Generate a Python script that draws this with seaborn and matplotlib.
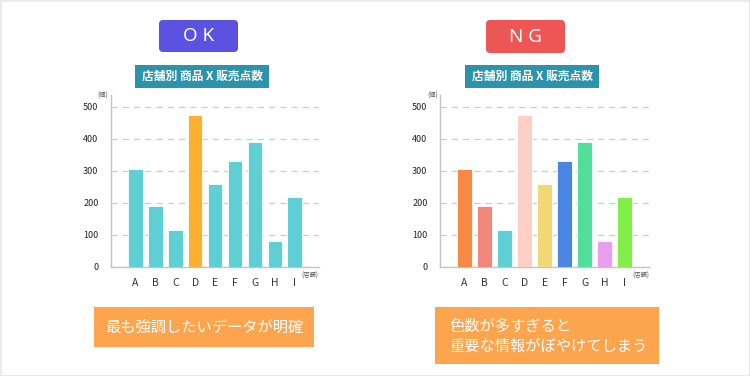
import pandas as pd
import seaborn as sns
import matplotlib.pyplot as plt
from matplotlib.patches import FancyBboxPatch, Rectangle

# data
stores = ["A", "B", "C", "D", "E", "F", "G", "H", "I"]
sales = [305, 190, 115, 475, 258, 330, 390, 80, 220]
y_ticks = [0, 100, 200, 300, 400, 500]

ok_colors = ["#5fcfd6", "#5fcfd6", "#5fcfd6", "#fbb12f", "#5fcfd6",
             "#5fcfd6", "#5fcfd6", "#5fcfd6", "#5fcfd6"]
ng_colors = ["#f68a45", "#f1877a", "#5fcfd6", "#fdd0c6", "#f1d877",
             "#4a86e2", "#52de9b", "#e99ef0", "#82ee48"]

chart_title = "店舗別 商品 X 販売点数"
ok_caption = "最も強調したいデータが明確"
ng_caption = "色数が多すぎると\n重要な情報がぼやけてしまう"

df = pd.DataFrame({"store": stores, "sales": sales})

sns.set_style("white")
plt.rcParams["font.family"] = ["Noto Sans CJK JP", "DejaVu Sans"]

W, H = 750, 376
fig = plt.figure(figsize=(W / 100, H / 100), dpi=100)

# overlay in pixel coordinates for boxes / labels
bg = fig.add_axes([0, 0, 1, 1])
bg.set_xlim(0, W)
bg.set_ylim(H, 0)
bg.axis("off")
bg.add_patch(Rectangle((0.5, 0.5), W - 1, H - 1, fill=False, ec="#e6e6e6", lw=1.2))


def rbox(x0, y0, x1, y1, color, r=0):
    style = f"round,pad=0,rounding_size={r}" if r else "square,pad=0"
    bg.add_patch(FancyBboxPatch((x0, y0), x1 - x0, y1 - y0, boxstyle=style,
                                fc=color, ec="none"))


# OK / NG badges
rbox(159, 20, 238, 52, "#5b52e2", r=4)
bg.text(198.5, 36, "O K", color="white", fontsize=13.5, ha="center", va="center",
        family="Noto Sans")
rbox(486, 20, 565, 53, "#ee5655", r=4)
bg.text(525.5, 36.5, "N G", color="white", fontsize=13.5, ha="center", va="center",
        family="Noto Sans")

# chart titles
for x0, x1 in [(135, 269), (465, 599)]:
    rbox(x0, 65, x1, 88, "#2b93aa")
    bg.text((x0 + x1) / 2, 76.5, chart_title, color="white", fontsize=8.5,
            fontweight="bold", ha="center", va="center")

# captions
rbox(94, 307, 314, 347, "#fca54e")
bg.text(204, 327, ok_caption, color="white", fontsize=11, ha="center", va="center")
rbox(435, 307, 659, 364, "#fca54e")
bg.text(449, 336, ng_caption, color="white", fontsize=11, ha="left", va="center",
        linespacing=1.3)


def draw_chart(x_left, x_right, colors, unit_y_x, unit_x_x):
    y0, y_top = 267, 95
    ax = fig.add_axes([x_left / W, (H - y0) / H, (x_right - x_left) / W, (y0 - y_top) / H])
    sns.barplot(data=df, x="store", y="sales", hue="store",
                palette=dict(zip(stores, colors)), width=0.73, legend=False,
                saturation=1, edgecolor="white", linewidth=0.6, ax=ax, zorder=3)
    ax.set_xlim(-1.23, 9.22)
    ax.set_ylim(0, 537)
    ax.set_yticks(y_ticks)
    ax.set_xlabel("")
    ax.set_ylabel("")
    ax.yaxis.grid(True, linestyle=(0, (5, 4)), color="#cccccc", lw=0.9, zorder=0)
    ax.set_axisbelow(True)
    for s in ["top", "right"]:
        ax.spines[s].set_visible(False)
    for s in ["left", "bottom"]:
        ax.spines[s].set_color("#c4c4c4")
        ax.spines[s].set_linewidth(1)
    ax.tick_params(axis="y", length=0, pad=9, labelsize=6.5, labelcolor="#222222")
    ax.tick_params(axis="x", length=0, pad=8, labelsize=7.5, labelcolor="#333333")
    bg.text(unit_y_x, 96, "(個)", fontsize=4.5, color="#555555", ha="center", va="center")
    bg.text(unit_x_x, 276, "(店舗)", fontsize=4.5, color="#555555", ha="center", va="center")
    return ax


draw_chart(111, 319, ok_colors, 103, 310)
draw_chart(440, 649, ng_colors, 433, 641)

fig.savefig("out.png", dpi=100, facecolor="white")
